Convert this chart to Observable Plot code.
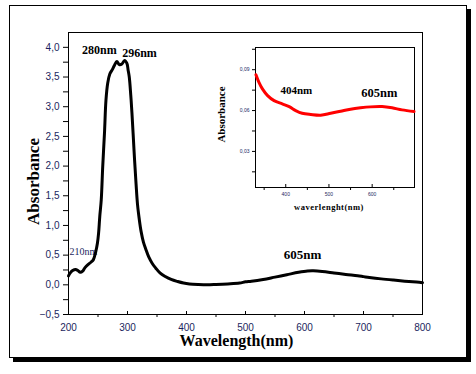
<!DOCTYPE html>
<html><head><meta charset="utf-8">
<script src="https://cdn.jsdelivr.net/npm/d3@7"></script>
<script src="https://cdn.jsdelivr.net/npm/@observablehq/plot@0.6"></script>
<style>
body{margin:0;background:#fff;}
#wrap{position:relative;width:476px;height:374px;background:#fff;overflow:hidden;}
#border{position:absolute;left:9px;top:5px;width:456px;height:351px;border:1px solid #000;box-shadow:4px 4px 0 #000;}
#main{position:absolute;left:0;top:0;}
#inset{position:absolute;left:210px;top:40px;}
</style></head><body>
<div id="wrap"><div id="border"></div><div id="main"></div><div id="inset"></div></div>
<script>
// Main spectrum
const wavelength = [200,203,207,212,216,220,224,228,233,238,242,246,249,251,253,255.5,258,261,263.5,266.5,270,274,278,282,286,290.5,295,299,301,303,305.5,307.5,309.5,312,314.5,317,320,323,327,331,336,342,348,355,364,374,385,395,405,420,435,450,470,490,500,510,530,550,570,590,605,615,630,650,670,690,700,710,730,750,770,790,800];
const absorbance = [0.15,0.2,0.24,0.26,0.24,0.21,0.23,0.29,0.34,0.38,0.42,0.55,0.7,0.87,1.15,1.43,1.99,2.56,3.11,3.4,3.55,3.62,3.7,3.76,3.71,3.72,3.78,3.73,3.62,3.5,3.2,2.9,2.55,2.1,1.7,1.35,1.1,0.9,0.72,0.6,0.47,0.36,0.28,0.2,0.14,0.09,0.055,0.03,0.015,0.005,0.0,0.005,0.015,0.03,0.05,0.06,0.09,0.13,0.17,0.21,0.232,0.235,0.225,0.2,0.175,0.152,0.138,0.124,0.1,0.08,0.062,0.046,0.036];
// Inset spectrum
const insetWavelength = [331,338,346,358,373,392,408,423,438,458,481,504,527,550,573,596,623,646,669,697];
const insetAbsorbance = [0.0863,0.0807,0.0759,0.071,0.0673,0.0649,0.0629,0.06,0.058,0.0571,0.0566,0.058,0.0595,0.061,0.062,0.0627,0.0629,0.062,0.0605,0.0593];
// Ticks
const xTicks = [200,300,400,500,600,700,800];
const xMinorTicks = [250,350,450,550,650,750];
const yTicks = [-0.5,0,0.5,1,1.5,2,2.5,3,3.5,4];
const yMinorTicks = [-0.25,0.25,0.75,1.25,1.75,2.25,2.75,3.25,3.75];
const insetXTicks = [400,500,600];
const insetXMinorTicks = [350,450,550,650];
const insetYTicks = [0.03,0.06,0.09];
const insetYMinorTicks = [0.015,0.045,0.075,0.105];
// Annotations
const mainLabels = [
  {text:"280nm", w:280, a:3.76},
  {text:"296nm", w:296, a:3.78},
  {text:"605nm", w:605, a:0.235},
  {text:"210nm", w:210, a:0.25}
];
const insetLabels = [
  {text:"404nm", w:404, a:0.0635},
  {text:"605nm", w:605, a:0.0628}
];

const mainData = wavelength.map((w,i)=>({w, a:absorbance[i]}));
const insetData = insetWavelength.map((w,i)=>({w, a:insetAbsorbance[i]}));
const comma1 = d => d3.format(".1f")(d).replace(".", ",");
const comma2 = d => d3.format(".2f")(d).replace(".", ",");
const serif = "Liberation Serif, Times New Roman, serif";
const sans = "Liberation Sans, Arial, sans-serif";
const tickColor = "#1b1f5e";
const lab = t => mainLabels.filter(d=>d.text===t);
const ilab = t => insetLabels.filter(d=>d.text===t);

// main frame geometry (margins)
const W = 476, H = 374, mL = 68, mR = 54, mT = 32, mB = 60;
const fw = W - mL - mR, fh = H - mT - mB;

const main = Plot.plot({
  width: W, height: H,
  marginLeft: mL, marginRight: mR, marginTop: mT, marginBottom: mB,
  x: {domain: [200, 800], axis: null},
  y: {domain: [-0.5, 4.25], axis: null},
  style: {background: "transparent", fontFamily: sans},
  marks: [
    Plot.frame({stroke: "#000"}),
    Plot.tickY(yTicks.concat(yMinorTicks), {y: d=>d, stroke:"#000", insetLeft: -5, insetRight: fw}),
    Plot.text(yTicks, {y: d=>d, text: comma1, frameAnchor:"left", textAnchor:"end", lineAnchor:"middle", dx:-9, fontSize: 10, fill: tickColor}),
    Plot.tickX(xMinorTicks, {x: d=>d, stroke:"#000", insetTop: fh, insetBottom: -3}),
    Plot.tickX(xTicks, {x: d=>d, stroke:"#000", insetTop: fh - 3}),
    Plot.text(xTicks, {x: d=>d, text: d=>String(d), frameAnchor:"bottom", textAnchor:"middle", lineAnchor:"middle", dy: 13, fontSize: 10, fill: tickColor}),
    Plot.text(lab("210nm"), {x:"w", y:"a", text:"text", textAnchor:"start", dx:-5, dy:-18, fontFamily: serif, fontSize: 10, fill: "#1b1f5e"}),
    Plot.line(mainData, {x:"w", y:"a", stroke:"#000", strokeWidth: 3, curve: "catmull-rom"}),
    Plot.text(lab("280nm"), {x:"w", y:"a", text:"text", textAnchor:"end", dx:1, dy:-11, fontFamily: serif, fontSize: 12, fontWeight: "bold"}),
    Plot.text(lab("296nm"), {x:"w", y:"a", text:"text", textAnchor:"start", dx:-3, dy:-7, fontFamily: serif, fontSize: 12, fontWeight: "bold"}),
    Plot.text(lab("605nm"), {x:"w", y:"a", text:"text", textAnchor:"middle", dx:-5, dy:-16, fontFamily: serif, fontSize: 13, fontWeight: "bold"}),
    Plot.text(["Absorbance"], {frameAnchor:"left", textAnchor:"middle", lineAnchor:"middle", rotate:-90, dx:-35, dy:8, fontFamily: serif, fontSize: 17, fontWeight:"bold"}),
    Plot.text(["Wavelength(nm)"], {frameAnchor:"bottom", textAnchor:"middle", lineAnchor:"middle", dx:-9, dy:26, fontFamily: serif, fontSize: 16, fontWeight:"bold"})
  ]
});
document.getElementById("main").appendChild(main);

const iW = 215, iH = 180, iL = 45, iR = 11, iT = 7, iB = 33;
const ifw = iW - iL - iR, ifh = iH - iT - iB;
const inset = Plot.plot({
  width: iW, height: iH,
  marginLeft: iL, marginRight: iR, marginTop: iT, marginBottom: iB,
  x: {domain: [330, 698], axis: null},
  y: {domain: [0.0035, 0.1063], axis: null},
  style: {background: "transparent", fontFamily: sans},
  marks: [
    Plot.frame({stroke: "#000"}),
    Plot.tickY(insetYTicks.concat(insetYMinorTicks), {y: d=>d, stroke:"#000", insetLeft: -3, insetRight: ifw}),
    Plot.text(insetYTicks, {y: d=>d, text: comma2, frameAnchor:"left", textAnchor:"end", lineAnchor:"middle", dx:-6, fontSize: 5, fill: tickColor}),
    Plot.tickX(insetXMinorTicks, {x: d=>d, stroke:"#000", insetTop: ifh, insetBottom: -3}),
    Plot.tickX(insetXTicks, {x: d=>d, stroke:"#000", insetTop: ifh - 3}),
    Plot.text(insetXTicks, {x: d=>d, text: d=>String(d), frameAnchor:"bottom", textAnchor:"middle", lineAnchor:"middle", dy: 7, fontSize: 5, fill: tickColor}),
    Plot.line(insetData, {x:"w", y:"a", stroke:"#ff0000", strokeWidth: 3, curve: "catmull-rom"}),
    Plot.text(ilab("404nm"), {x:"w", y:"a", text:"text", textAnchor:"start", dx:-7, dy:-15, fontFamily: serif, fontSize: 11, fontWeight: "bold"}),
    Plot.text(ilab("605nm"), {x:"w", y:"a", text:"text", textAnchor:"middle", dx:5, dy:-14, fontFamily: serif, fontSize: 12.5, fontWeight: "bold"}),
    Plot.text(["Absorbance"], {frameAnchor:"left", textAnchor:"middle", lineAnchor:"middle", rotate:-90, dx:-34, dy:-3, fontFamily: serif, fontSize: 11, fontWeight:"bold"}),
    Plot.text(["waverlenght(nm)"], {frameAnchor:"bottom", textAnchor:"middle", lineAnchor:"middle", dx:-6, dy:20, fontFamily: serif, fontSize: 8.5, fontWeight:"bold"})
  ]
});
d3.select(inset).selectAll("text").filter(function(){return this.textContent==="waverlenght(nm)";}).style("letter-spacing","0.5px");
document.getElementById("inset").appendChild(inset);
</script>
</body></html>
